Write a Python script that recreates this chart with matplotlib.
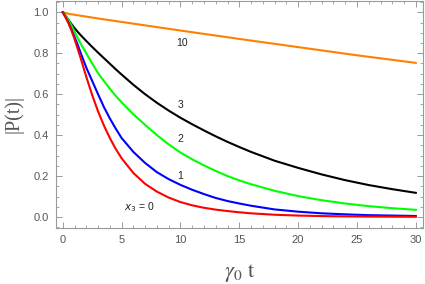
import matplotlib
matplotlib.use("Agg")
from matplotlib import pyplot as plt
from matplotlib.ticker import MultipleLocator


# values
t = [0, 0.25, 0.5, 0.75, 1, 1.25, 1.5, 2, 2.5, 3, 3.5, 4, 4.5, 5, 6, 7, 8, 9, 10,
     11, 12, 13, 14, 15, 16, 18, 20, 22, 24, 26, 28, 30]
p_x0 = [1.0, 0.975, 0.945, 0.91, 0.87, 0.825, 0.78, 0.685, 0.596, 0.516, 0.447, 0.386,
        0.333, 0.287, 0.215, 0.162, 0.124, 0.095, 0.073, 0.057, 0.045, 0.036, 0.029,
        0.023, 0.018, 0.011, 0.007, 0.0045, 0.003, 0.002, 0.0015, 0.001]
p_x1 = [1.0, 0.975, 0.948, 0.915, 0.88, 0.845, 0.805, 0.73, 0.665, 0.6, 0.537, 0.482,
        0.432, 0.386, 0.318, 0.264, 0.219, 0.185, 0.157, 0.133, 0.112, 0.093, 0.078,
        0.066, 0.055, 0.037, 0.026, 0.018, 0.013, 0.009, 0.007, 0.005]
p_x2 = [1.0, 0.985, 0.962, 0.935, 0.906, 0.877, 0.85, 0.8, 0.75, 0.703, 0.664, 0.627,
        0.592, 0.56, 0.502, 0.45, 0.4, 0.355, 0.315, 0.282, 0.252, 0.225, 0.2,
        0.179, 0.16, 0.128, 0.102, 0.082, 0.066, 0.053, 0.043, 0.035]
p_x3 = [1.0, 0.982, 0.962, 0.942, 0.923, 0.906, 0.89, 0.86, 0.831, 0.803, 0.776, 0.749,
        0.722, 0.696, 0.646, 0.6, 0.558, 0.52, 0.485, 0.453, 0.423, 0.394, 0.367,
        0.342, 0.318, 0.275, 0.24, 0.208, 0.18, 0.156, 0.136, 0.118]
t_x10 = [0, 0.25, 0.5, 1, 2, 3, 5, 7.5, 10, 15, 20, 25, 30]
p_x10 = [1.0, 0.997, 0.993, 0.988, 0.979, 0.97, 0.953, 0.932, 0.911, 0.87, 0.83, 0.79, 0.753]

curve_labels = ["10", "3", "2", "1", "$x_3$ = 0"]
label_pos = [(10.1, 0.852), (10.0, 0.548), (10.0, 0.38), (10.0, 0.2), (6.5, 0.05)]

plt.rcParams['font.family'] = ['Liberation Sans', 'DejaVu Sans']

fig = plt.figure(figsize=(4.25, 2.84), dpi=100)
ax = fig.add_axes([0.131, 0.197, 0.864, 0.8])

ax.plot(t_x10, p_x10, color=(1.0, 0.5, 0.0), lw=1.5)
ax.plot(t, p_x3, color="black", lw=1.5)
ax.plot(t, p_x2, color=(0.0, 1.0, 0.0), lw=1.5)
ax.plot(t, p_x1, color=(0.0, 0.0, 1.0), lw=1.5)
ax.plot(t, p_x0, color=(1.0, 0.0, 0.0), lw=1.5)

for lab, (lx, ly) in zip(curve_labels, label_pos):
    ax.text(lx, ly, lab, fontsize=7.5, color="#222222", ha="center", va="center",
            math_fontfamily="dejavusans")

ax.set_xlim(-0.6, 30.6)
ax.set_ylim(-0.054, 1.056)
ax.xaxis.set_major_locator(MultipleLocator(5))
ax.xaxis.set_minor_locator(MultipleLocator(1))
ax.yaxis.set_major_locator(MultipleLocator(0.2))
ax.yaxis.set_minor_locator(MultipleLocator(0.05))
ax.yaxis.set_major_formatter(plt.FuncFormatter(lambda v, pos: "%.1f" % v))

frame_col = "#9a9a9a"
for s in ax.spines.values():
    s.set_color(frame_col)
    s.set_linewidth(0.8)
ax.tick_params(which="both", direction="in", top=True, right=True, color=frame_col,
               labelcolor="#555555", labelsize=8)
ax.tick_params(which="major", length=4, width=0.7, pad=5)
ax.tick_params(which="minor", length=2.2, width=0.6)

ax.set_ylabel("|P(t)|", family="Liberation Serif", fontsize=14.5, color="#555555")
ax.yaxis.set_label_coords(-0.088, 0.5)
ax.set_xlabel(r"$\gamma_0\ \mathrm{t}$", fontsize=16, color="#555555",
              math_fontfamily="stix")
ax.xaxis.set_label_coords(0.5, -0.15)

fig.savefig("out.png", dpi=100)
